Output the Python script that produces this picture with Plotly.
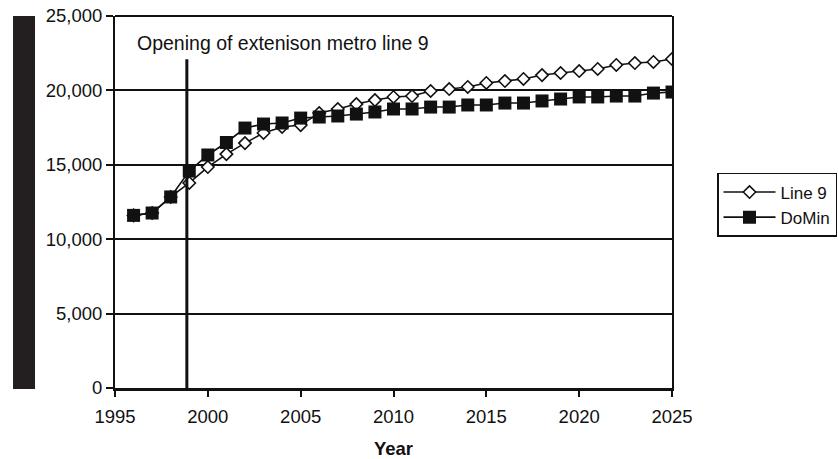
import plotly.graph_objects as go

# Annual values, 1996-2025
years = list(range(1996, 2026))

line9 = [11600, 11760, 12840, 13780, 14850, 15720, 16460, 17140, 17540, 17670,
         18480, 18750, 19080, 19350, 19560, 19620, 19960, 20090, 20230, 20500,
         20630, 20770, 21030, 21170, 21300, 21440, 21710, 21840, 21910, 22110]

domin = [11600, 11760, 12840, 14580, 15660, 16500, 17470, 17740, 17810, 18140,
         18210, 18280, 18410, 18550, 18750, 18750, 18880, 18880, 19020, 19020,
         19150, 19150, 19290, 19420, 19560, 19560, 19620, 19620, 19820, 19890]

series_names = ["Line 9", "DoMin"]

# Opening of the metro line 9 extension
opening_year = 1998.87
opening_marker_top = 22100
opening_label = "Opening of extenison metro line 9"

x_ticks = [1995, 2000, 2005, 2010, 2015, 2020, 2025]
y_ticks = [0, 5000, 10000, 15000, 20000, 25000]

FONT = "Liberation Sans, Arial, sans-serif"
INK = "#111111"

fig = go.Figure()

fig.add_trace(go.Scatter(
    x=years, y=line9, name=series_names[0], mode="lines+markers",
    line=dict(color=INK, width=1.6),
    marker=dict(symbol="diamond", size=9.5, color="white",
                line=dict(color=INK, width=1.6)),
))
fig.add_trace(go.Scatter(
    x=years, y=domin, name=series_names[1], mode="lines+markers",
    line=dict(color=INK, width=1.6),
    marker=dict(symbol="square", size=13, color=INK,
                line=dict(color=INK, width=0)),
))

shapes = [
    # event marker
    dict(type="line", xref="x", yref="y", x0=opening_year, x1=opening_year,
         y0=0, y1=opening_marker_top, line=dict(color=INK, width=3)),
    # top frame edge
    dict(type="line", xref="paper", yref="paper", x0=0, x1=1, y0=1, y1=1,
         line=dict(color=INK, width=2)),
    # dark vertical band left of the axis
    dict(type="rect", xref="paper", yref="paper", x0=-0.1831, x1=-0.1436,
         y0=-0.003, y1=1.0, fillcolor="#231f20", line=dict(width=0),
         layer="above"),
]

annotations = [
    dict(text=opening_label, x=1996.1, y=23190, xref="x", yref="y",
         xanchor="left", yanchor="middle", showarrow=False,
         font=dict(family=FONT, size=19.5, color=INK)),
]

fig.update_layout(
    width=838, height=459,
    margin=dict(l=115, r=166, t=16, b=71, autoexpand=False),
    paper_bgcolor="white", plot_bgcolor="white",
    font=dict(family=FONT, size=18.5, color=INK),
    showlegend=True,
    legend=dict(x=1.0808, y=0.578, xanchor="left", yanchor="top",
                bordercolor=INK, borderwidth=1.5, bgcolor="white",
                font=dict(family=FONT, size=17, color=INK),
                traceorder="normal", itemwidth=52),
    shapes=shapes,
    annotations=annotations,
    xaxis=dict(
        range=[1995, 2025], tickvals=x_ticks, ticktext=[str(v) for v in x_ticks],
        showgrid=False, zeroline=False,
        showline=True, linecolor=INK, linewidth=3, mirror=False,
        ticks="outside", ticklen=6, tickwidth=1.5, tickcolor=INK,
        ticklabelstandoff=4,
        title=dict(text="<b>Year</b>", font=dict(family=FONT, size=18.5, color=INK),
                   standoff=18),
        automargin=False,
    ),
    yaxis=dict(
        range=[0, 25000], tickvals=y_ticks,
        tickformat=",d",
        showgrid=True, gridcolor=INK, gridwidth=1.5, zeroline=False,
        showline=True, linecolor=INK, linewidth=2, mirror=True,
        ticks="outside", ticklen=7, tickwidth=1.5, tickcolor=INK,
        automargin=False,
    ),
)

fig.write_html("out.html")
